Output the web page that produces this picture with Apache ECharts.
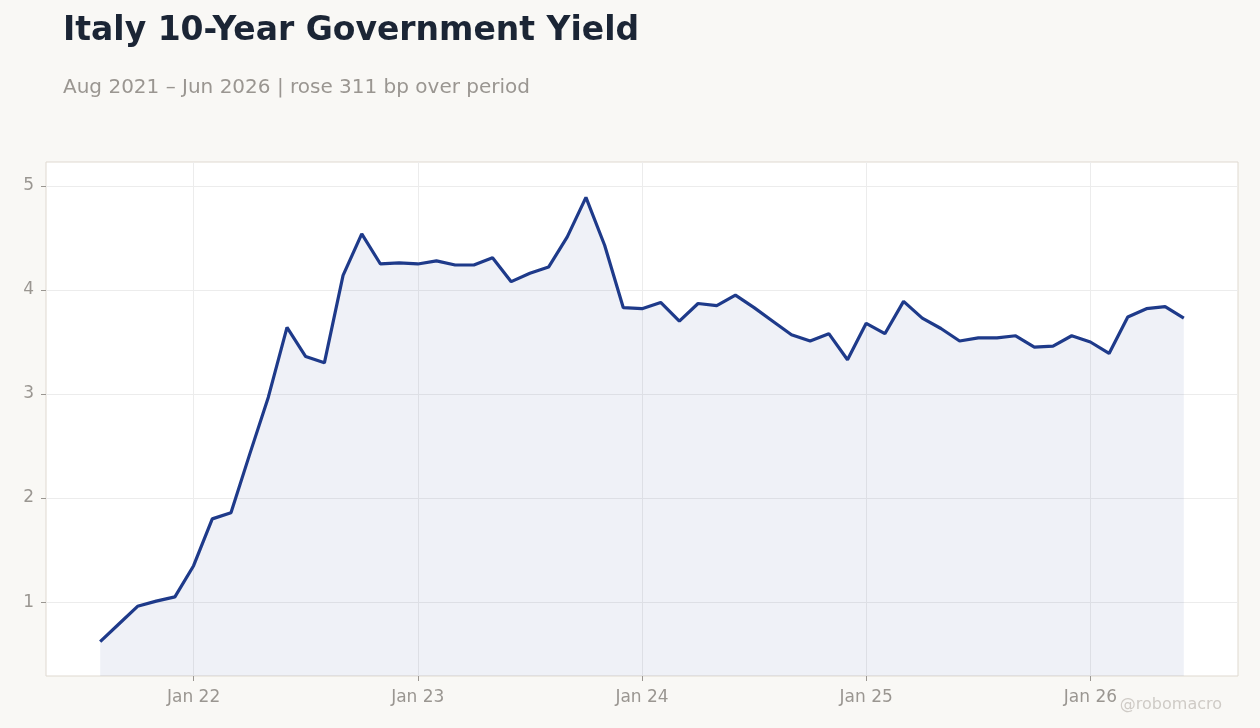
<!DOCTYPE html>
<html>
<head>
<meta charset="utf-8">
<script src="https://cdn.jsdelivr.net/npm/echarts@6/dist/echarts.min.js"></script>
<style>
  html, body { margin: 0; padding: 0; background: #f9f8f5; }
  #chart { width: 1260px; height: 728px; }
</style>
</head>
<body>
<div id="chart"></div>
<script>
// Italy 10Y yield, monthly Aug 2021 - Jun 2026
var startYear = 2021, startMonth = 8;
var yields = [
  0.62, 0.79, 0.96, 1.01, 1.05, 1.35, 1.80, 1.86, 2.42, 2.97,
  3.64, 3.36, 3.30, 4.14, 4.54, 4.25, 4.26, 4.25, 4.28, 4.24,
  4.24, 4.31, 4.08, 4.16, 4.22, 4.51, 4.89, 4.43, 3.83, 3.82,
  3.88, 3.70, 3.87, 3.85, 3.95, 3.83, 3.70, 3.57, 3.51, 3.58,
  3.33, 3.68, 3.58, 3.89, 3.73, 3.63, 3.51, 3.54, 3.54, 3.56,
  3.45, 3.46, 3.56, 3.50, 3.39, 3.74, 3.82, 3.84, 3.73
];
var xTickYears = [2022, 2023, 2024, 2025, 2026];
var yTicks = [1, 2, 3, 4, 5];

// month offset from first observation
function monthIndex(year, month) {
  return (year - startYear) * 12 + (month - startMonth);
}
var xTicks = xTickYears.map(function (y) { return monthIndex(y, 1); });

var myChart = echarts.init(document.getElementById('chart'));

var n = yields.length - 1;
var pad = n * 0.05;

var option = {
  backgroundColor: '#f9f8f5',
  animation: false,
  title: {
    text: 'Italy 10-Year Government Yield',
    subtext: 'Aug 2021 \u2013 Jun 2026 | rose 311 bp over period',
    left: 58,
    top: 10,
    itemGap: 30,
    textStyle: {
      fontFamily: 'DejaVu Sans',
      fontSize: 33,
      fontWeight: 'bold',
      color: '#1b2535'
    },
    subtextStyle: {
      fontFamily: 'DejaVu Sans',
      fontSize: 20,
      color: '#9a9691'
    }
  },
  graphic: [{
    type: 'text',
    right: 38,
    top: 697,
    style: {
      text: '@robomacro',
      fontFamily: 'DejaVu Sans',
      fontSize: 16,
      fill: '#cfcbc6'
    }
  }],
  grid: {
    left: 46,
    right: 22,
    top: 162,
    bottom: 52,
    show: true,
    backgroundColor: '#ffffff',
    borderColor: '#dfd9d0',
    borderWidth: 1
  },
  xAxis: {
    type: 'value',
    min: -pad,
    max: n + pad,
    axisLine: { show: false, onZero: false },
    axisTick: {
      show: true,
      length: 5,
      customValues: xTicks,
      lineStyle: { color: '#9a9691' }
    },
    axisLabel: {
      customValues: xTicks,
      formatter: function (v) {
        var y = startYear + Math.floor((startMonth - 1 + v) / 12);
        return 'Jan ' + String(y).slice(2);
      },
      fontFamily: 'DejaVu Sans',
      fontSize: 17,
      color: '#9a9691',
      margin: 13
    },
    splitLine: {
      show: true,
      lineStyle: { color: '#ececec', width: 1 }
    }
  },
  yAxis: {
    type: 'value',
    min: 0.29,
    max: 5.23,
    axisLine: { show: false, onZero: false },
    axisTick: {
      show: true,
      length: 5,
      customValues: yTicks,
      lineStyle: { color: '#9a9691' }
    },
    axisLabel: {
      customValues: yTicks,
      fontFamily: 'DejaVu Sans',
      fontSize: 17,
      color: '#9a9691',
      margin: 12
    },
    splitLine: {
      show: true,
      lineStyle: { color: '#ececec', width: 1 }
    }
  },
  series: [{
    type: 'line',
    data: yields.map(function (v, i) { return [i, v]; }),
    showSymbol: false,
    lineStyle: { color: '#1e3a8a', width: 3.2 },
    itemStyle: { color: '#1e3a8a' },
    areaStyle: { color: 'rgba(30,58,138,0.1)', origin: 'start' }
  }]
};

myChart.setOption(option);
</script>
</body>
</html>
